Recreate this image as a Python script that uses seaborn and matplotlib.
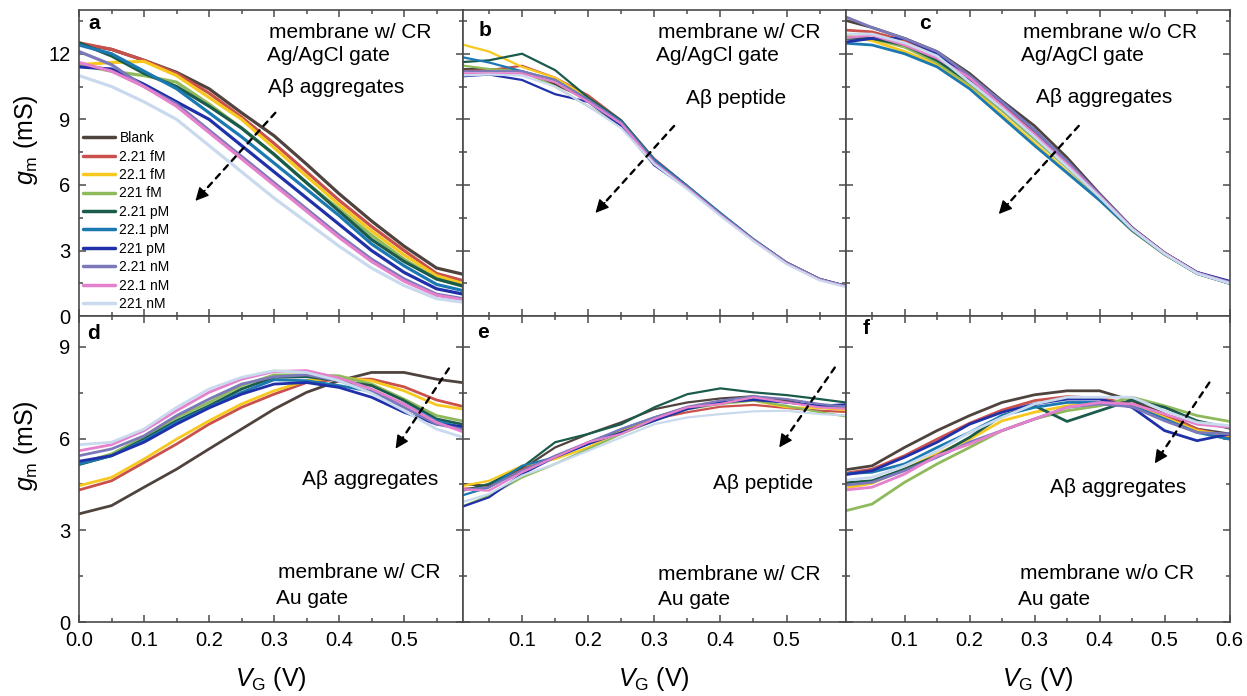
import numpy as np
import pandas as pd
import matplotlib
matplotlib.use("Agg")
import matplotlib.pyplot as plt
from matplotlib.ticker import MultipleLocator, FormatStrFormatter
import seaborn as sns

sns.set_style("ticks")
plt.rcParams['font.family'] = ['Liberation Sans', 'DejaVu Sans']
plt.rcParams['mathtext.fontset'] = 'custom'
plt.rcParams['mathtext.it'] = 'Liberation Sans:italic'
plt.rcParams['mathtext.rm'] = 'Liberation Sans'
plt.rcParams['text.color'] = 'black'
plt.rcParams['axes.labelcolor'] = 'black'

# ---------------- data ----------------
vg = [0.0, 0.05, 0.1, 0.15, 0.2, 0.25, 0.3, 0.35, 0.4, 0.45, 0.5, 0.55, 0.6]
concentrations = ["Blank", "2.21 fM", "22.1 fM", "221 fM", "2.21 pM", "22.1 pM",
                  "221 pM", "2.21 nM", "22.1 nM", "221 nM"]
colors = ["#4f433e", "#c9504b", "#f7c81e", "#8fba5c", "#1b5b4b", "#1b78b0",
          "#1f30a8", "#7b79b9", "#e580cc", "#c9daee"]

a_blank = [12.45, 12.2, 11.7, 11.15, 10.4, 9.3, 8.25, 6.95, 5.6, 4.35, 3.2, 2.2, 1.85]
a_221fM_2 = [12.5, 12.2, 11.7, 11.1, 10.2, 9.1, 7.9, 6.6, 5.3, 4.1, 3.0, 1.95, 1.55]
a_221fM_22 = [11.5, 11.6, 11.65, 11.0, 10.0, 9.0, 7.7, 6.4, 5.1, 3.9, 2.8, 1.85, 1.4]
a_221fM = [11.5, 11.2, 11.0, 10.7, 9.7, 8.6, 7.4, 6.1, 4.9, 3.7, 2.6, 1.7, 1.3]
a_2pM = [12.5, 11.9, 11.1, 10.5, 9.6, 8.6, 7.4, 6.1, 4.8, 3.5, 2.5, 1.7, 1.3]
a_22pM = [12.4, 12.0, 11.2, 10.4, 9.3, 8.2, 7.0, 5.8, 4.6, 3.3, 2.3, 1.45, 1.1]
a_221pM = [11.4, 11.3, 10.6, 9.8, 9.0, 7.8, 6.6, 5.4, 4.2, 3.0, 2.0, 1.25, 0.95]
a_2nM = [12.1, 11.5, 10.5, 9.7, 8.5, 7.3, 6.1, 4.9, 3.7, 2.6, 1.7, 1.0, 0.75]
a_22nM = [11.6, 11.2, 10.5, 9.6, 8.4, 7.2, 6.0, 4.8, 3.6, 2.5, 1.6, 0.95, 0.7]
a_221nM = [11.0, 10.5, 9.8, 9.0, 7.8, 6.6, 5.4, 4.3, 3.2, 2.2, 1.4, 0.8, 0.6]

b_blank = [11.3, 11.3, 11.2, 10.6, 9.9, 8.9, 7.1, 5.9, 4.65, 3.5, 2.45, 1.7, 1.3]
b_2fM = [11.2, 11.25, 11.45, 10.9, 10.1, 8.95, 7.2, 5.95, 4.7, 3.5, 2.45, 1.68, 1.3]
b_22fM = [12.5, 12.1, 11.4, 10.9, 10.0, 8.9, 7.1, 5.9, 4.65, 3.48, 2.42, 1.68, 1.3]
b_221fM = [11.5, 11.3, 11.2, 10.5, 9.6, 8.7, 7.05, 5.85, 4.62, 3.46, 2.42, 1.66, 1.28]
b_2pM = [11.6, 11.7, 12.0, 11.25, 10.0, 8.95, 7.15, 5.95, 4.68, 3.5, 2.45, 1.7, 1.3]
b_22pM = [11.9, 11.6, 11.2, 10.8, 9.9, 8.9, 7.15, 5.95, 4.72, 3.52, 2.45, 1.7, 1.3]
b_221pM = [10.95, 11.05, 10.8, 10.15, 9.8, 8.7, 6.9, 5.85, 4.65, 3.48, 2.42, 1.68, 1.3]
b_2nM = [11.2, 11.2, 11.2, 10.8, 9.9, 8.85, 7.05, 5.9, 4.66, 3.5, 2.45, 1.7, 1.3]
b_22nM = [11.1, 11.1, 11.1, 10.7, 9.8, 8.8, 7.0, 5.85, 4.62, 3.46, 2.4, 1.66, 1.28]
b_221nM = [11.0, 11.05, 11.0, 10.5, 9.6, 8.6, 6.95, 5.8, 4.58, 3.43, 2.38, 1.64, 1.25]

c_blank = [13.6, 13.2, 12.7, 12.1, 11.1, 9.85, 8.7, 7.25, 5.6, 4.05, 2.9, 2.0, 1.55]
c_2fM = [13.1, 13.0, 12.6, 12.0, 10.9, 9.7, 8.45, 7.05, 5.55, 4.0, 2.88, 1.98, 1.55]
c_22fM = [12.9, 12.6, 12.1, 11.5, 10.5, 9.2, 7.9, 6.6, 5.3, 3.9, 2.82, 1.95, 1.5]
c_221fM = [12.8, 12.7, 12.3, 11.6, 10.6, 9.4, 8.1, 6.8, 5.4, 3.95, 2.85, 1.95, 1.5]
c_2pM = [12.7, 12.7, 12.4, 11.7, 10.7, 9.5, 8.2, 6.9, 5.45, 3.97, 2.85, 1.95, 1.5]
c_22pM = [12.5, 12.4, 12.0, 11.4, 10.4, 9.1, 7.8, 6.55, 5.3, 3.92, 2.83, 1.95, 1.5]
c_221pM = [12.5, 12.7, 12.7, 12.0, 10.85, 9.8, 8.5, 7.05, 5.55, 4.02, 2.88, 2.0, 1.6]
c_2nM = [13.8, 13.2, 12.7, 12.1, 11.0, 9.8, 8.5, 7.1, 5.55, 4.02, 2.88, 1.98, 1.55]
c_22nM = [12.7, 12.85, 12.4, 11.8, 10.9, 9.6, 8.3, 6.95, 5.5, 4.0, 2.87, 1.97, 1.52]
c_221nM = [12.9, 12.9, 12.5, 11.9, 10.7, 9.5, 8.2, 6.85, 5.45, 3.98, 2.85, 1.95, 1.5]

d_blank = [3.54, 3.81, 4.41, 5.0, 5.66, 6.31, 6.96, 7.51, 7.89, 8.16, 8.16, 7.94, 7.8]
d_2fM = [4.32, 4.62, 5.22, 5.82, 6.47, 7.02, 7.45, 7.83, 7.94, 7.94, 7.69, 7.26, 7.0]
d_22fM = [4.46, 4.73, 5.33, 5.98, 6.58, 7.13, 7.56, 7.89, 8.0, 7.89, 7.56, 7.1, 6.93]
d_221fM = [5.19, 5.5, 6.04, 6.69, 7.18, 7.73, 8.08, 8.08, 8.05, 7.78, 7.29, 6.75, 6.53]
d_2pM = [5.15, 5.44, 5.98, 6.58, 7.07, 7.62, 8.0, 8.02, 7.89, 7.73, 7.24, 6.64, 6.42]
d_22pM = [5.17, 5.44, 5.93, 6.53, 7.02, 7.51, 7.92, 7.89, 7.73, 7.54, 7.13, 6.58, 6.31]
d_221pM = [5.26, 5.44, 5.88, 6.47, 7.0, 7.45, 7.78, 7.83, 7.67, 7.35, 6.86, 6.47, 6.37]
d_2nM = [5.44, 5.66, 6.09, 6.75, 7.29, 7.78, 8.02, 8.08, 7.89, 7.51, 7.02, 6.47, 6.26]
d_22nM = [5.6, 5.8, 6.26, 6.91, 7.51, 7.94, 8.19, 8.22, 7.98, 7.62, 7.13, 6.53, 6.15]
d_221nM = [5.8, 5.88, 6.31, 7.02, 7.62, 8.0, 8.22, 8.16, 7.89, 7.48, 6.91, 6.31, 5.98]

e_blank = [4.52, 4.46, 5.0, 5.71, 6.15, 6.53, 6.96, 7.18, 7.31, 7.38, 7.24, 7.02, 6.96]
e_2fM = [4.35, 4.41, 5.0, 5.39, 5.88, 6.26, 6.64, 6.86, 7.04, 7.1, 7.0, 6.91, 6.86]
e_22fM = [4.41, 4.62, 5.11, 5.33, 5.71, 6.26, 6.69, 7.02, 7.18, 7.24, 7.02, 7.0, 6.91]
e_221fM = [3.7, 4.13, 4.73, 5.17, 5.66, 6.15, 6.58, 6.96, 7.13, 7.24, 7.07, 6.86, 6.69]
e_2pM = [4.24, 4.52, 5.06, 5.88, 6.15, 6.47, 7.02, 7.45, 7.64, 7.51, 7.42, 7.29, 7.15]
e_22pM = [4.08, 4.41, 5.11, 5.39, 5.82, 6.31, 6.69, 7.02, 7.18, 7.29, 7.18, 7.07, 7.04]
e_221pM = [3.7, 4.08, 4.84, 5.39, 5.82, 6.2, 6.58, 6.96, 7.18, 7.26, 7.18, 7.07, 7.13]
e_2nM = [4.3, 4.41, 4.95, 5.44, 5.88, 6.31, 6.69, 7.04, 7.24, 7.38, 7.29, 7.13, 7.02]
e_22nM = [4.35, 4.3, 4.9, 5.39, 5.88, 6.15, 6.64, 7.02, 7.13, 7.35, 7.18, 7.02, 6.96]
e_221nM = [3.86, 4.19, 4.79, 5.17, 5.6, 6.04, 6.47, 6.69, 6.8, 6.89, 6.91, 6.8, 6.75]

f_blank = [4.95, 5.11, 5.71, 6.26, 6.75, 7.18, 7.43, 7.56, 7.56, 7.24, 6.8, 6.31, 6.15]
f_2fM = [4.84, 5.0, 5.44, 5.98, 6.5, 6.93, 7.24, 7.37, 7.32, 7.13, 6.75, 6.31, 6.04]
f_22fM = [4.35, 4.54, 5.0, 5.5, 5.98, 6.58, 6.86, 7.07, 7.13, 7.07, 6.69, 6.26, 6.1]
f_221fM = [3.59, 3.86, 4.57, 5.17, 5.71, 6.26, 6.64, 6.91, 7.07, 7.35, 7.07, 6.75, 6.56]
f_2pM = [4.54, 4.62, 5.0, 5.44, 6.04, 6.75, 7.07, 6.56, 6.91, 7.26, 7.02, 6.58, 6.34]
f_22pM = [4.84, 4.9, 5.17, 5.71, 6.2, 6.75, 7.02, 7.18, 7.18, 7.07, 6.64, 6.2, 5.98]
f_221pM = [4.79, 4.95, 5.39, 5.88, 6.47, 6.86, 7.13, 7.29, 7.29, 7.02, 6.26, 5.93, 6.15]
f_2nM = [4.46, 4.57, 4.95, 5.39, 5.88, 6.26, 6.64, 7.02, 7.13, 7.04, 6.58, 6.2, 6.15]
f_22nM = [4.3, 4.41, 4.84, 5.44, 5.82, 6.26, 6.64, 7.02, 7.18, 7.13, 6.8, 6.47, 6.37]
f_221nM = [4.62, 4.73, 5.11, 5.6, 6.2, 6.69, 7.13, 7.35, 7.35, 7.35, 6.91, 6.53, 6.42]

panel_series = {
    "a": [a_blank, a_221fM_2, a_221fM_22, a_221fM, a_2pM, a_22pM, a_221pM, a_2nM, a_22nM, a_221nM],
    "b": [b_blank, b_2fM, b_22fM, b_221fM, b_2pM, b_22pM, b_221pM, b_2nM, b_22nM, b_221nM],
    "c": [c_blank, c_2fM, c_22fM, c_221fM, c_2pM, c_22pM, c_221pM, c_2nM, c_22nM, c_221nM],
    "d": [d_blank, d_2fM, d_22fM, d_221fM, d_2pM, d_22pM, d_221pM, d_2nM, d_22nM, d_221nM],
    "e": [e_blank, e_2fM, e_22fM, e_221fM, e_2pM, e_22pM, e_221pM, e_2nM, e_22nM, e_221nM],
    "f": [f_blank, f_2fM, f_22fM, f_221fM, f_2pM, f_22pM, f_221pM, f_2nM, f_22nM, f_221nM],
}

panel_texts = {
    "a": [("membrane w/ CR", 0.496, 0.928), ("Ag/AgCl gate", 0.491, 0.852), ("A\u03b2 aggregates", 0.493, 0.748)],
    "b": [("membrane w/ CR", 0.509, 0.928), ("Ag/AgCl gate", 0.505, 0.852), ("A\u03b2 peptide", 0.582, 0.711)],
    "c": [("membrane w/o CR", 0.461, 0.928), ("Ag/AgCl gate", 0.456, 0.852), ("A\u03b2 aggregates", 0.495, 0.715)],
    "d": [("A\u03b2 aggregates", 0.582, 0.467), ("membrane w/ CR", 0.519, 0.163), ("Au gate", 0.514, 0.078)],
    "e": [("A\u03b2 peptide", 0.653, 0.454), ("membrane w/ CR", 0.509, 0.155), ("Au gate", 0.509, 0.075)],
    "f": [("A\u03b2 aggregates", 0.531, 0.441), ("membrane w/o CR", 0.453, 0.16), ("Au gate", 0.448, 0.075)],
}
panel_letter_pos = {"a": (0.023, 0.957), "b": (0.042, 0.934), "c": (0.19, 0.957),
                    "d": (0.02, 0.944), "e": (0.039, 0.946), "f": (0.044, 0.96)}
# arrows (tail, head) in data coords
arrows = {"a": ((0.302, 9.3), (0.179, 5.27)), "b": ((0.33, 8.7), (0.211, 4.72)),
          "c": ((0.368, 8.7), (0.245, 4.67)), "d": ((0.569, 8.29), (0.487, 5.67)),
          "e": ((0.573, 8.32), (0.489, 5.71)), "f": ((0.569, 7.83), (0.485, 5.19))}
xlims = {"a": (0.0, 0.59), "b": (0.01, 0.59), "c": (0.01, 0.6),
         "d": (0.0, 0.59), "e": (0.01, 0.59), "f": (0.01, 0.6)}
ylims = {"a": (0, 14), "b": (0, 14), "c": (0, 14), "d": (0, 10), "e": (0, 10), "f": (0, 10)}
lws = {"a": 2.3, "b": 1.6, "c": 2.0, "d": 2.0, "e": 1.6, "f": 2.0}

# ---------------- figure ----------------
fig, axes = plt.subplots(2, 3, figsize=(12.47, 6.96), dpi=100)
fig.subplots_adjust(left=0.0634, right=0.986, top=0.9856, bottom=0.106, wspace=0, hspace=0)
spine_color = "#4a4a4a"

for idx, key in enumerate(["a", "b", "c", "d", "e", "f"]):
    ax = axes.flat[idx]
    rows = []
    for name, ys in zip(concentrations, panel_series[key]):
        for xv, yv in zip(vg, ys):
            rows.append((xv, yv, name))
    df = pd.DataFrame(rows, columns=["VG", "gm", "conc"])
    sns.lineplot(data=df, x="VG", y="gm", hue="conc", hue_order=concentrations,
                 palette=colors, ax=ax, lw=lws[key], estimator=None, sort=False,
                 legend=(key == "a"))
    ax.set_xlim(*xlims[key])
    ax.set_ylim(*ylims[key])
    ax.xaxis.set_major_locator(MultipleLocator(0.1))
    ax.xaxis.set_minor_locator(MultipleLocator(0.05))
    ax.xaxis.set_major_formatter(FormatStrFormatter("%.1f"))
    ax.yaxis.set_major_locator(MultipleLocator(3))
    ax.yaxis.set_minor_locator(MultipleLocator(1.5))
    ax.tick_params(which="both", direction="in", top=True, right=True,
                   colors=spine_color, labelcolor="black", labelsize=14.5, width=1.1)
    ax.tick_params(which="major", length=5, pad=6)
    ax.tick_params(which="minor", length=3)
    for s in ax.spines.values():
        s.set_color(spine_color)
        s.set_linewidth(1.2)
    ax.set_xlabel("")
    ax.set_ylabel("")
    if idx < 3:
        ax.tick_params(labelbottom=False)
    else:
        ax.set_xlabel(r"$V_{\mathrm{G}}$ (V)", fontsize=18, labelpad=11, color="black")
    if idx % 3 != 0:
        ax.tick_params(labelleft=False)
    else:
        ax.set_ylabel(r"$g_{\mathrm{m}}$ (mS)", fontsize=18, color="black")
        ax.yaxis.set_label_coords(-0.102, 0.577)

    for txt, tx, ty in panel_texts[key]:
        ax.text(tx, ty, txt, transform=ax.transAxes, fontsize=15, ha="left", va="center",
                color="black")
    lx, ly = panel_letter_pos[key]
    ax.text(lx, ly, key, transform=ax.transAxes, fontsize=15, fontweight="bold",
            ha="left", va="center", color="black")

    tail, head = arrows[key]
    ax.annotate("", xy=head, xytext=tail,
                arrowprops=dict(arrowstyle="-", color="black", lw=1.7,
                                linestyle=(0, (2.5, 2.5)), shrinkA=0, shrinkB=6))
    pre = (head[0] + 0.12 * (tail[0] - head[0]), head[1] + 0.12 * (tail[1] - head[1]))
    ax.annotate("", xy=head, xytext=pre,
                arrowprops=dict(arrowstyle="-|>", color="black", lw=1.0,
                                mutation_scale=20, shrinkA=0, shrinkB=0))

    if key == "a":
        leg = ax.legend(loc="lower left", bbox_to_anchor=(-0.018, -0.02), frameon=False,
                        fontsize=10, handlelength=2.3, handletextpad=0.3,
                        labelspacing=0.32, borderpad=0.3)
        for line in leg.get_lines():
            line.set_linewidth(2.5)
        for t in leg.get_texts():
            t.set_color("black")

fig.savefig("out.png", dpi=100)
